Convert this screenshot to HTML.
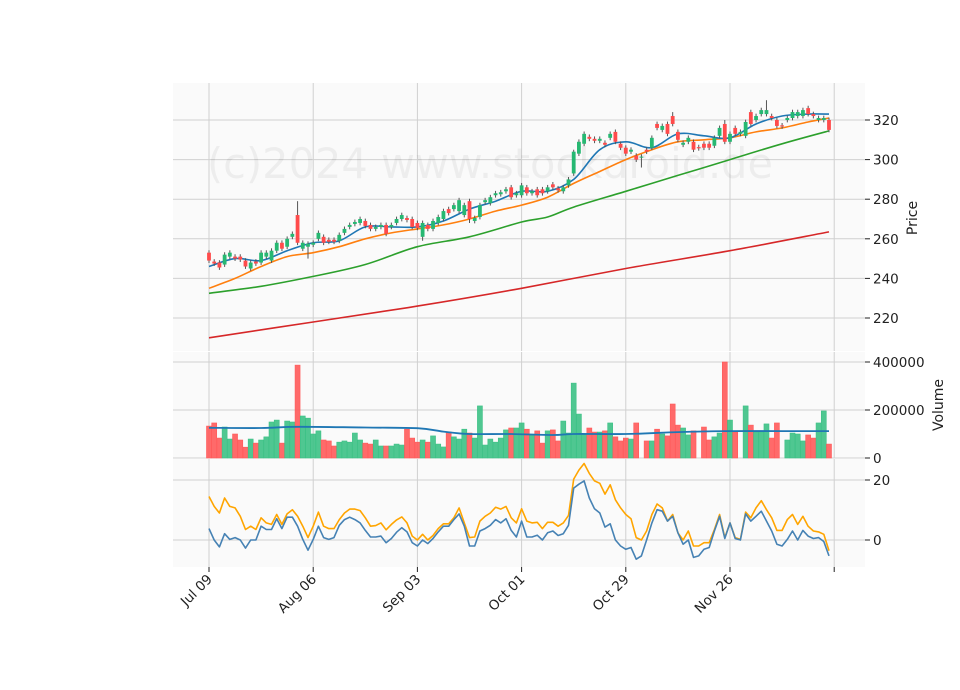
<!DOCTYPE html>
<html><head><meta charset="utf-8"><style>
html,body{margin:0;padding:0;background:#fff;}
svg{display:block;font-family:"DejaVu Sans","Liberation Sans",sans-serif;}
</style></head><body>
<svg id="chart" width="960" height="690" viewBox="0 0 960 690" xmlns="http://www.w3.org/2000/svg"></svg>
<script>
// ---- data ----
const dateLabels = ["Jul 09","Aug 06","Sep 03","Oct 01","Oct 29","Nov 26",""];
const dateTickIdx = [0,20,40,60,80,100,120];
const opens = [253,248.5,248,247,251,251,251,249,245,248.5, 248,251,249,254,258,256,261,272,255,256,
 257,260,261,259.5,259.5,259,263,266,267.5,268, 269,267,265,266,267,266,268,270,270.5,270,
 268,261,267,265,268,270,275,275,274,272, 279,269,271,278.5,278,282,282.5,284,286,282,
 282,286,283,285,285,284,287.5,285.5,284,287, 293,303,308,311.5,310.5,309.5,308.5,311,314,308,
 306,304,302,301,305,306,318,315,318,322, 314,307.5,309,309,306.3,308,308,307,312,318,
 309,316,313,312,324,320,323,323,322,320, 317.3,320,321,322,322,326,323,320,320,320];
const closes = [249,247.5,245.5,252,253,250,249.5,246,248,247.5, 253,253,254,258,255,260,262.5,258,258,257.5,
 258,263,258,258.5,258.5,262,265,267,268.5,270, 266.5,265,266,267,262.5,267,270,272,269.5,266,
 265.5,268,265,269,271,274,273,277,279.5,277, 270,270.5,277,279.5,281,283,283.5,285,281,283,
 287,283,284,282,283,286,286,284.5,286,290, 304,309,313,310.5,309.5,310.5,307.5,313,309,306,
 303,305,300,301.5,304,311,316,317,313,318, 310,308.5,311,305,305.7,306,306,311,316,309,
 313,313,314,319,318,322,325,325,321,317, 316.7,321,324,324,325,323,322,321,321,315];
const highOverrides = {17:279, 107:330, 70:305, 99:320, 89:324};
const lowOverrides = {19:250, 41:259, 50:268, 83:296};
const volumes = [133,146,83,129,79,100,75,45,79,62, 75,88,150,158,62,154,150,387,175,166,
 100,113,75,71,50,66,71,66,104,75, 62,58,75,50,50,50,58,54,120,83,
 66,75,66,92,58,46,108,88,79,120, 104,83,217,54,79,66,83,117,125,125,
 146,120,96,113,62,113,117,71,154,104, 312,183,100,125,108,108,113,146,88,71,
 83,79,146,0,71,71,120,100,92,225, 137,125,96,113,0,129,75,88,104,400,
 158,108,0,217,137,108,108,142,83,146, 0,75,104,100,71,96,83,146,196,58];
const volMaIdx = [0,10,17,30,40,45,50,58,66,70,80,90,99,110,119];
const volMaVals = [126,125,130,127,124,110,100,100,96,100,100,108,112,112,112];
const maIdx1 = [0,5,10,15,20,25,30,35,40,45,50,55,60,65,70,75,80,85,90,95,100,105,110,115,119];
const maShort = [246,250,249,254,258,259,266,266,266,269,275,279,284,284,290,305,309,306,313,312,311,318,322,323,323];
const maMid = [235,240,246,251,253,256,260,263,265,267,270,274,277,281,288,294,300,305,309,310,311,314,316,319,321];
const maIdx2 = [0,10,20,30,40,50,60,65,70,80,90,100,110,119];
const maLong = [232.5,236,241,247,256,261,268.5,271,276,284,292,300,308,314.5];
const maIdx3 = [0,20,40,60,80,100,119];
const maVeryLong = [210,218,226,235,245,254,263.5];
const oscA = [14.5,11.2,9,14,11.2,10.7,7.9,3.5,4.6,3.5, 7.4,5.7,5.2,8.5,5.2,8.7,10.1,7.9,4.6,0.8,
 4.6,9.3,4.6,3.8,3.8,6.8,9,10.3,10.3,9.8, 7.4,4.6,4.8,5.7,3.4,5.2,6.7,7.7,5.7,1.3,
 0,1.9,0,1.5,3.8,5.4,5.4,7.4,10.7,5.7, 0.8,1,6.3,7.9,9,10.9,10.3,11.2,7.4,5.7,
 10.4,6.3,5.7,5.9,3.8,5.9,5.9,4.6,5.7,8.2, 20.3,23.3,25.5,22.2,19.7,18.9,15.3,18.4,13.4,10.7,
 8.5,7.1,0.8,0,3,8.5,12,10.7,6.3,8.5, 2.4,0,3,-2,-2,-0.9,-0.9,3.5,8.5,0.8,
 5.7,0.8,0.2,9.3,7.4,10.7,13.1,10.1,7.4,3.2, 3.2,6.8,8.5,5.2,7.9,4.6,3,2.7,1.9,-3.6];
const oscB = [3.8,0,-2.3,2.1,0.2,0.8,0,-2.7,0,0, 4.6,3.5,3.5,7.1,3.8,7.6,7.6,4.6,0.2,-3.4,
 0.2,4.6,0.8,0.2,0.8,4.9,6.8,7.6,6.8,5.7, 3.2,1,1,1.3,-0.9,0.5,2.6,4.1,2.7,-0.9,
 -2,0,-1.2,0.5,2.7,4.6,4.6,6.8,8.7,4.6, -2,-2,3,3.8,4.9,6.8,5.7,7.1,3.2,1,
 6.3,1,1,1.6,0,2.4,3,1.5,2.1,4.9, 17.3,18.6,19.7,14,10.4,9,4.3,5.4,0,-2,
 -3.1,-2.5,-6.4,-5.3,0,5.7,10.1,9.6,6.3,7.9, 2.4,-1.4,0,-5.8,-5.3,-3.1,-2.5,3,7.9,0.5,
 5.7,0.5,0,8.7,6.3,7.9,9.6,6.3,3,-1.4, -2,0.2,3,0,3.2,1.3,0.5,0.8,-0.5,-5.3];
const priceTicks = [220,240,260,280,300,320];
const volTicks = [0,200000,400000];
const volTickLabels = ["0","200000","400000"];
const oscTicks = [0,20];

// ---- scales ----
const L=173,R=865;
const xs = i => 209 + i*5.21;
const yP = p => 120 + (320-p)*1.98;
const yV = v => 458 - v*0.00024;
const yO = v => 540 - v*3.0;
const svg = document.getElementById('chart');
const NS="http://www.w3.org/2000/svg";
function mk(tag, attrs, parent){const e=document.createElementNS(NS,tag);for(const k in attrs)e.setAttribute(k,attrs[k]);(parent||svg).appendChild(e);return e;}

// panels
const panels=[["price-panel",83,351],["volume-panel",352,458],["indicator-panel",459,567]];
panels.forEach(p=>{const r=mk('rect',{x:L,y:p[1],width:R-L,height:p[2]-p[1],fill:'#fafafa'});

});

// vertical grid
dateTickIdx.forEach(i=>{panels.forEach(p=>{const g=mk('line',{x1:xs(i),x2:xs(i),y1:p[1],y2:p[2],stroke:'#d0d0d0','stroke-width':1});

});});
// horizontal grids + right labels
function hgrid(ticks, yf, labels, name){ticks.forEach((t,k)=>{const y=yf(t);
 const g=mk('line',{x1:L,x2:R,y1:y,y2:y,stroke:'#d0d0d0','stroke-width':1});
 
 
 mk('line',{x1:R,x2:R+5,y1:y,y2:y,stroke:'#222','stroke-width':1});
 const tx=mk('text',{x:R+8,y:y+5,'font-size':13.5,fill:'#222'});
 tx.textContent=labels?labels[k]:String(t);
 
 });}
hgrid(priceTicks,yP,null,'price');
hgrid(volTicks,yV,volTickLabels,'volume');
hgrid(oscTicks,yO,null,'indicator');

// watermark
const wm=mk('text',{x:207,y:178,'font-size':42,fill:'#000','fill-opacity':0.05,textLength:566,lengthAdjust:'spacingAndGlyphs'});
wm.textContent='(c)2024 www.stockdroid.de';



// lines (smooth option: Catmull-Rom)
function line(idx, vals, yf, color, name, w, smooth){
 const P=idx.map((i,k)=>[xs(i),yf(vals[k])]);
 let d='M'+P[0][0].toFixed(1)+','+P[0][1].toFixed(1);
 if(smooth){for(let k=0;k<P.length-1;k++){const p0=P[Math.max(k-1,0)],p1=P[k],p2=P[k+1],p3=P[Math.min(k+2,P.length-1)];
  const c1=[p1[0]+(p2[0]-p0[0])/6,p1[1]+(p2[1]-p0[1])/6],c2=[p2[0]-(p3[0]-p1[0])/6,p2[1]-(p3[1]-p1[1])/6];
  d+=' C'+c1[0].toFixed(1)+','+c1[1].toFixed(1)+' '+c2[0].toFixed(1)+','+c2[1].toFixed(1)+' '+p2[0].toFixed(1)+','+p2[1].toFixed(1);}}
 else{for(let k=1;k<P.length;k++)d+=' L'+P[k][0].toFixed(1)+','+P[k][1].toFixed(1);}
 const pl=mk('path',{d:d,fill:'none',stroke:color,'stroke-width':w||1.6,'stroke-linejoin':'round'});
 
 }
line(maIdx3,maVeryLong,yP,'#d62728','ma-very-long',1.6,true);
line(maIdx2,maLong,yP,'#2ca02c','ma-long',1.6,true);
line(maIdx1,maMid,yP,'#ff7f0e','ma-mid',1.6,true);
line(maIdx1,maShort,yP,'#1f77b4','ma-short',1.6,true);

// candles
const GREEN='#26b872', RED='#ff4b4b';
opens.forEach((o,i)=>{const c=closes[i];const up=c>=o;const col=up?GREEN:RED;
 const hi=highOverrides[i]!==undefined?highOverrides[i]:Math.max(o,c)+1.2;
 const lo=lowOverrides[i]!==undefined?lowOverrides[i]:Math.min(o,c)-1.2;
 const x=xs(i);
 const w=mk('line',{x1:x,x2:x,y1:yP(hi),y2:yP(lo),stroke:'#555','stroke-width':1});
 
 
 const top=yP(Math.max(o,c)),bot=yP(Math.min(o,c));
 const b=mk('rect',{x:x-1.9,y:top,width:3.8,height:Math.max(bot-top,1),fill:col});
 
 });

// volume bars
volumes.forEach((v,i)=>{const up=closes[i]>=opens[i];const val=v*1000;if(val<=0)return;
 const y=yV(val);const b=mk('rect',{x:xs(i)-2.5,y:y,width:5.0,height:458-y,fill:up?'#3cc185':'#ff5a5a','fill-opacity':0.9,stroke:up?'#3cc185':'#ff5a5a','stroke-width':0.6});
 
 });
line(volMaIdx,volMaVals.map(v=>v*1000),yV,'#1f77b4','volume-ma',1.8,true);

// indicator lines
const oIdx=oscA.map((_,i)=>i);
line(oIdx,oscA,yO,'#ffa500','indicator-line-orange',1.6,false);
line(oIdx,oscB,yO,'#4682b4','indicator-line-blue',1.6,false);

// x ticks & labels
dateTickIdx.forEach((i,k)=>{const x=xs(i);
 mk('line',{x1:x,x2:x,y1:567,y2:572,stroke:'#222','stroke-width':1});
 if(!dateLabels[k])return;
 const t=mk('text',{x:x+4,y:580,'font-size':13.5,fill:'#222','text-anchor':'end',transform:`rotate(-45 ${x+4} 580)`});
 t.textContent=dateLabels[k];
 
 });

// axis titles
const pt=mk('text',{x:917,y:218,'font-size':14,fill:'#222','text-anchor':'middle',transform:'rotate(-90 917 218)'});
pt.textContent='Price';


const vt=mk('text',{x:943,y:405,'font-size':14,fill:'#222','text-anchor':'middle',transform:'rotate(-90 943 405)'});
vt.textContent='Volume';


</script>
</body></html>
